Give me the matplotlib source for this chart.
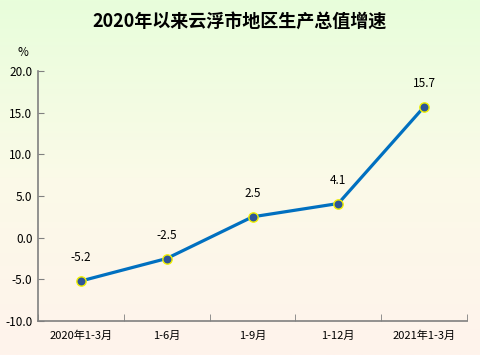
import matplotlib
matplotlib.use("Agg")
import matplotlib.pyplot as plt
import numpy as np
from matplotlib.colors import LinearSegmentedColormap

plt.rcParams['font.family'] = ['Noto Sans CJK SC', 'DejaVu Sans']

categories = ["2020年1-3月", "1-6月", "1-9月", "1-12月", "2021年1-3月"]
values = [-5.2, -2.5, 2.5, 4.1, 15.7]
yticks = [-10.0, -5.0, 0.0, 5.0, 10.0, 15.0, 20.0]

fig = plt.figure(figsize=(4.8, 3.55), dpi=100)
bg = fig.add_axes([0, 0, 1, 1], zorder=-10)
cmap = LinearSegmentedColormap.from_list("bg", ["#e8fedb", "#fbfae8", "#fff3ec"])
grad = np.linspace(0, 1, 256).reshape(-1, 1)
bg.imshow(grad, aspect="auto", cmap=cmap, extent=[0, 1, 0, 1], origin="upper")
bg.axis("off")

ax = fig.add_axes([38/480, (355-321)/355, (467-38)/480, (321-71)/355])
ax.patch.set_alpha(0)
x = np.arange(len(categories))
ax.plot(x, values, color="#0070c0", lw=2.3, zorder=3)
ax.scatter(x, values, s=45, color="#2e5597", edgecolors="#f0f000", linewidths=1.0, zorder=4)
for xi, v in zip(x, values):
    ax.annotate(f"{v:.1f}", (xi, v), xytext=(0, 12), textcoords="offset points",
                ha="center", va="bottom", fontsize=8.5, color="#000000")

ax.set_xlim(-0.5, len(categories) - 0.5)
ax.set_ylim(-10, 20)
ax.set_yticks(yticks)
ax.set_yticklabels([f"{t:.1f}" for t in yticks], fontsize=8.5)
ax.set_xticks(x)
ax.set_xticklabels(categories, fontsize=8)
ax.set_xticks(np.arange(-0.5, len(categories)), minor=True)
ax.tick_params(axis="x", which="major", length=0, pad=7)
ax.tick_params(axis="x", which="minor", direction="in", length=5, color="#808080")
ax.tick_params(axis="y", direction="in", length=4, color="#808080", pad=4)
for s in ["top", "right"]:
    ax.spines[s].set_visible(False)
for s in ["left", "bottom"]:
    ax.spines[s].set_color("#808080")
    ax.spines[s].set_linewidth(1.2)

fig.text(0.5, 1 - 22/355, "2020年以来云浮市地区生产总值增速", ha="center", va="center",
         fontsize=13, fontweight="bold")
fig.text(23/480, 1 - 53/355, "%", ha="center", va="center", fontsize=8.5)

fig.savefig("out.png", dpi=100)
